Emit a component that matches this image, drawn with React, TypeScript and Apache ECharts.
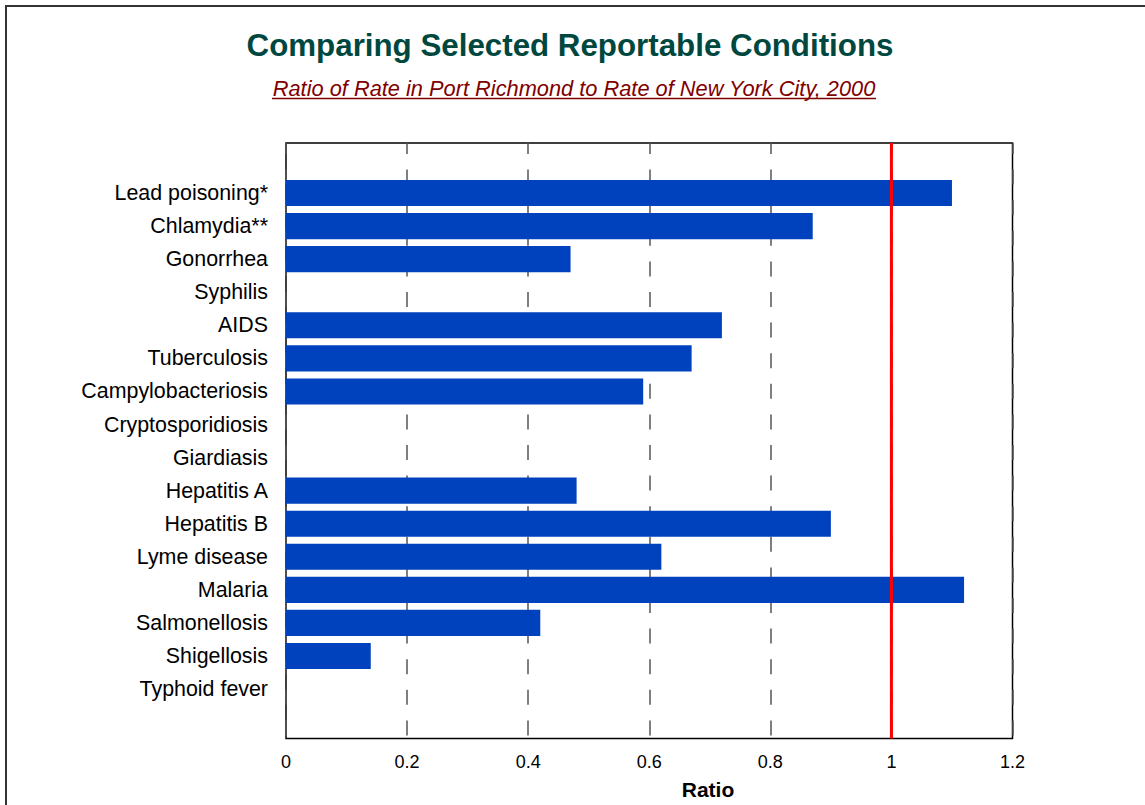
import React, { useEffect, useRef } from "react";
import * as echarts from "echarts";

const categories = [
  "Lead poisoning*",
  "Chlamydia**",
  "Gonorrhea",
  "Syphilis",
  "AIDS",
  "Tuberculosis",
  "Campylobacteriosis",
  "Cryptosporidiosis",
  "Giardiasis",
  "Hepatitis A",
  "Hepatitis B",
  "Lyme disease",
  "Malaria",
  "Salmonellosis",
  "Shigellosis",
  "Typhoid fever",
];
const ratios = [1.1, 0.87, 0.47, 0, 0.72, 0.67, 0.59, 0, 0, 0.48, 0.9, 0.62, 1.12, 0.42, 0.14, 0];
const referenceRatio = 1;
const xMin = 0;
const xMax = 1.2;
const xInterval = 0.2;

const titleText = "Comparing Selected Reportable Conditions";
const subtitleText = "Ratio of Rate in Port Richmond to Rate of New York City, 2000";
const axisName = "Ratio";

const FONT = "'Liberation Sans', Arial, Helvetica, sans-serif";

export default function App() {
  const ref = useRef<HTMLDivElement>(null);
  useEffect(() => {
    document.body.style.margin = "0";
    if (!ref.current) return;
    const chart = echarts.init(ref.current, null, { renderer: "svg" });
    const W = 1145;
    const H = 805;
    const left = 286;
    const right = W - 1012.5;
    const frameTop = 143;
    const frameBottom = H - 738.5;
    const rowTop = 176.5;
    const rowBottom = H - 705.6;
    chart.setOption({
      animation: false,
      backgroundColor: "#ffffff",
      textStyle: { fontFamily: FONT },
      graphic: [
        {
          type: "rect",
          shape: { x: 6, y: 6, width: 1300, height: 1000 },
          style: { fill: "none", stroke: "#333333", lineWidth: 2 },
          silent: true,
        },
        {
          type: "text",
          x: 570,
          y: 45,
          style: {
            text: titleText,
            fill: "#00483F",
            font: `bold 31.3px ${FONT}`,
            textAlign: "center",
            textVerticalAlign: "middle",
          },
        },
        {
          type: "text",
          x: 574,
          y: 88,
          style: {
            text: subtitleText,
            fill: "#800000",
            font: `italic 21.8px ${FONT}`,
            textAlign: "center",
            textVerticalAlign: "middle",
          },
        },
        {
          type: "line",
          shape: { x1: 272, y1: 98.5, x2: 876, y2: 98.5 },
          style: { stroke: "#800000", lineWidth: 1.5 },
        },
        {
          type: "text",
          x: 708,
          y: 789,
          style: {
            text: axisName,
            fill: "#000",
            font: `bold 21px ${FONT}`,
            textAlign: "center",
            textVerticalAlign: "middle",
          },
        },
      ],
      grid: [
        {
          left,
          right,
          top: frameTop,
          bottom: frameBottom,
          show: true,
          borderColor: "#000000",
          borderWidth: 1.5,
          backgroundColor: "transparent",
        },
        {
          left,
          right,
          top: rowTop,
          bottom: rowBottom,
        },
      ],
      xAxis: [
        {
          gridIndex: 0,
          type: "value",
          min: xMin,
          max: xMax,
          interval: xInterval,
          axisLine: { show: false },
          axisTick: { show: false },
          axisLabel: { color: "#000", fontSize: 18, margin: 14.5, fontFamily: FONT },
          splitLine: {
            show: true,
            lineStyle: { color: "#555555", width: 1.5, type: [15, 15.6], dashOffset: 4 },
          },
        },
        {
          gridIndex: 1,
          type: "value",
          min: xMin,
          max: xMax,
          show: false,
        },
      ],
      yAxis: [
        {
          gridIndex: 0,
          type: "value",
          min: 0,
          max: 1,
          show: false,
        },
        {
          gridIndex: 1,
          type: "category",
          data: categories,
          inverse: true,
          axisLine: { show: false },
          axisTick: { show: false },
          splitLine: { show: false },
          axisLabel: { color: "#000", fontSize: 21.4, margin: 18, fontFamily: FONT },
        },
      ],
      series: [
        {
          type: "bar",
          xAxisIndex: 1,
          yAxisIndex: 1,
          data: ratios,
          barCategoryGap: "21%",
          itemStyle: { color: "#0041BE" },
          z: 2,
        },
        {
          type: "line",
          xAxisIndex: 0,
          yAxisIndex: 0,
          data: [
            [referenceRatio, 0],
            [referenceRatio, 1],
          ],
          symbol: "none",
          lineStyle: { color: "#FF0000", width: 3 },
          z: 5,
        },
      ],
    });
    return () => chart.dispose();
  }, []);
  return <div ref={ref} style={{ width: 1145, height: 805 }} />;
}
